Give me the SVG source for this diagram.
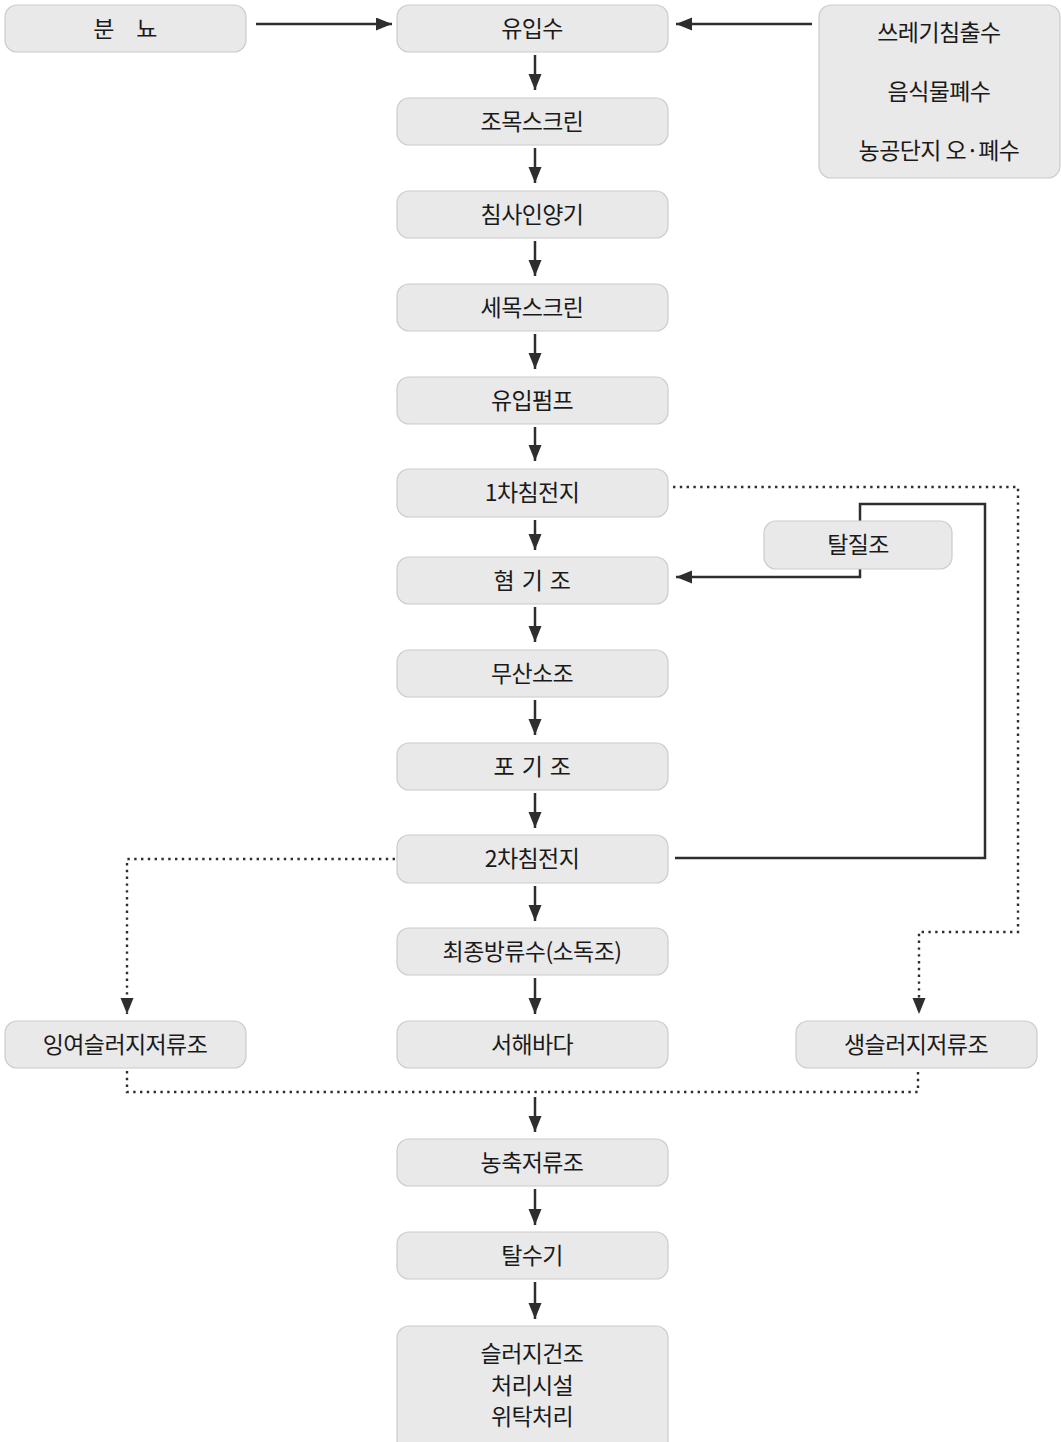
<svg xmlns="http://www.w3.org/2000/svg" width="1061" height="1442" viewBox="0 0 1061 1442">
<defs>
<style>
.box{fill:#e9e9e9;stroke:#cccccc;stroke-width:1.2}
.t{font-family:"Noto Sans CJK KR","Noto Sans",sans-serif;font-size:23px;fill:#1a1a1a;text-anchor:middle;dominant-baseline:central;letter-spacing:-0.6px}
.ln{fill:none;stroke:#2e2e2e;stroke-width:2.5}
.dot{fill:none;stroke:#2e2e2e;stroke-width:2.4;stroke-dasharray:2.4 4.4}
</style>
<marker id="ah" markerUnits="userSpaceOnUse" markerWidth="18" markerHeight="14" refX="16" refY="6.5" orient="auto">
<path d="M0,0 L16,6.5 L0,13 z" fill="#2e2e2e"/>
</marker>
</defs>
<rect width="1061" height="1442" fill="#fff"/>
<g id="connectors">
<line class="ln" x1="256" y1="24" x2="392" y2="24" marker-end="url(#ah)"/>
<line class="ln" x1="812" y1="24" x2="676" y2="24" marker-end="url(#ah)"/>
<line class="ln" x1="535" y1="55" x2="535" y2="90" marker-end="url(#ah)"/>
<line class="ln" x1="535" y1="148" x2="535" y2="183" marker-end="url(#ah)"/>
<line class="ln" x1="535" y1="241" x2="535" y2="276" marker-end="url(#ah)"/>
<line class="ln" x1="535" y1="334" x2="535" y2="369" marker-end="url(#ah)"/>
<line class="ln" x1="535" y1="427" x2="535" y2="461" marker-end="url(#ah)"/>
<line class="ln" x1="535" y1="520" x2="535" y2="550" marker-end="url(#ah)"/>
<line class="ln" x1="535" y1="607" x2="535" y2="642" marker-end="url(#ah)"/>
<line class="ln" x1="535" y1="700" x2="535" y2="735" marker-end="url(#ah)"/>
<line class="ln" x1="535" y1="793" x2="535" y2="828" marker-end="url(#ah)"/>
<line class="ln" x1="535" y1="886" x2="535" y2="921" marker-end="url(#ah)"/>
<line class="ln" x1="535" y1="978" x2="535" y2="1014" marker-end="url(#ah)"/>
<line class="ln" x1="535" y1="1097" x2="535" y2="1132" marker-end="url(#ah)"/>
<line class="ln" x1="535" y1="1189" x2="535" y2="1225" marker-end="url(#ah)"/>
<line class="ln" x1="535" y1="1282" x2="535" y2="1319" marker-end="url(#ah)"/>
<polyline class="ln" points="675,858 985,858 985,504 860,504 860,521"/>
<polyline class="ln" points="860,569 860,577 676,577" marker-end="url(#ah)"/>
<polyline class="dot" points="673,487 1018,487 1018,932 919,932 919,1014" marker-end="url(#ah)"/>
<polyline class="dot" points="395,859 127,859 127,1014" marker-end="url(#ah)"/>
<polyline class="dot" points="127,1071 127,1092 918,1092 918,1071"/>
</g>
<g id="n-bunnyo"><rect class="box" x="5" y="5" width="241" height="47" rx="12"/><text class="t" x="125" y="27" word-spacing="18">분 뇨</text></g>
<g id="n-inflow"><rect class="box" x="397" y="5" width="271" height="47" rx="12"/><text class="t" x="532" y="27">유입수</text></g>
<g id="n-sources"><rect class="box" x="819" y="5" width="241" height="173" rx="12"/><text class="t" x="939" y="31">쓰레기침출수</text><text class="t" x="939" y="90">음식물폐수</text><text class="t" x="939" y="149">농공단지 오·폐수</text></g>
<g id="n-coarse"><rect class="box" x="397" y="98" width="271" height="47" rx="12"/><text class="t" x="532" y="120">조목스크린</text></g>
<g id="n-grit"><rect class="box" x="397" y="191" width="271" height="47" rx="12"/><text class="t" x="532" y="213">침사인양기</text></g>
<g id="n-fine"><rect class="box" x="397" y="284" width="271" height="47" rx="12"/><text class="t" x="532" y="306">세목스크린</text></g>
<g id="n-pump"><rect class="box" x="397" y="377" width="271" height="47" rx="12"/><text class="t" x="532" y="399">유입펌프</text></g>
<g id="n-primary"><rect class="box" x="397" y="469" width="271" height="48" rx="12"/><text class="t" x="532" y="491">1차침전지</text></g>
<g id="n-denit"><rect class="box" x="764" y="521" width="188" height="48" rx="12"/><text class="t" x="858" y="543">탈질조</text></g>
<g id="n-anaerobic"><rect class="box" x="397" y="557" width="271" height="47" rx="12"/><text class="t" x="532" y="579" word-spacing="3">혐 기 조</text></g>
<g id="n-anoxic"><rect class="box" x="397" y="650" width="271" height="47" rx="12"/><text class="t" x="532" y="672">무산소조</text></g>
<g id="n-aeration"><rect class="box" x="397" y="743" width="271" height="47" rx="12"/><text class="t" x="532" y="765" word-spacing="3">포 기 조</text></g>
<g id="n-secondary"><rect class="box" x="397" y="835" width="271" height="48" rx="12"/><text class="t" x="532" y="857">2차침전지</text></g>
<g id="n-final"><rect class="box" x="397" y="928" width="271" height="47" rx="12"/><text class="t" x="532" y="950">최종방류수(소독조)</text></g>
<g id="n-excess"><rect class="box" x="5" y="1021" width="241" height="47" rx="12"/><text class="t" x="125" y="1043">잉여슬러지저류조</text></g>
<g id="n-sea"><rect class="box" x="397" y="1021" width="271" height="47" rx="12"/><text class="t" x="532" y="1043">서해바다</text></g>
<g id="n-raw"><rect class="box" x="796" y="1021" width="241" height="47" rx="12"/><text class="t" x="916" y="1043">생슬러지저류조</text></g>
<g id="n-thick"><rect class="box" x="397" y="1139" width="271" height="47" rx="12"/><text class="t" x="532" y="1161">농축저류조</text></g>
<g id="n-dewater"><rect class="box" x="397" y="1232" width="271" height="47" rx="12"/><text class="t" x="532" y="1254">탈수기</text></g>
<g id="n-dry"><rect class="box" x="397" y="1326" width="271" height="130" rx="12"/><text class="t" x="532" y="1352">슬러지건조</text><text class="t" x="532" y="1384">처리시설</text><text class="t" x="532" y="1415">위탁처리</text></g>
</svg>
